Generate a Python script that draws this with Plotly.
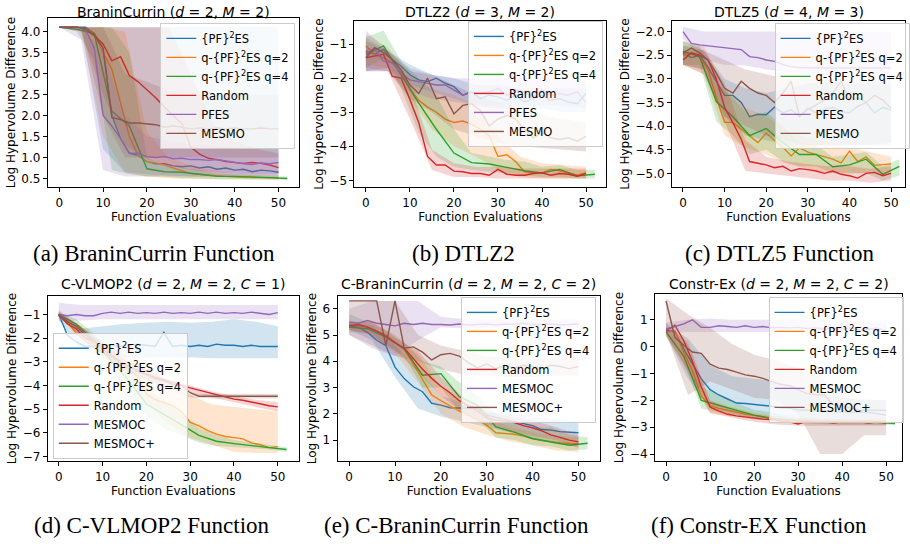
import plotly.graph_objects as go

W, H = 910, 546

X2 = list(range(0, 51, 2))
X4 = list(range(0, 53, 4))
BX = list(range(0, 51, 5))

TOP_NAMES = ["{PF}<sup>2</sup>ES", "q-{PF}<sup>2</sup>ES q=2", "q-{PF}<sup>2</sup>ES q=4", "Random", "PFES", "MESMO"]
BOT_NAMES = ["{PF}<sup>2</sup>ES", "q-{PF}<sup>2</sup>ES q=2", "q-{PF}<sup>2</sup>ES q=4", "Random", "MESMOC", "MESMOC+"]
COLORS = ["#1f77b4", "#ff7f0e", "#2ca02c", "#d62728", "#9467bd", "#8c564b"]
X_TICKS = [0, 10, 20, 30, 40, 50]

# ---------------- (a) BraninCurrin ----------------
A_PF = [4.1,4.1,4.1,4.1,3.95,3.6,2.0,1.45,1.1,1.05,0.9,0.85,0.85,0.8,0.78,0.8,0.75,0.78,0.72,0.75,0.7,0.72,0.66,0.7,0.68,0.65]
A_Q2 = [4.1,4.1,4.1,4.05,3.95,3.5,3.1,2.3,1.5,1.05,0.9,0.87,0.82,0.75,0.68,0.62,0.6,0.58,0.56,0.55,0.54,0.53,0.53,0.52,0.52,0.51]
A_Q4 = [4.1,4.05,3.95,2.1,1.75,0.73,0.66,0.65,0.6,0.55,0.55,0.54,0.52,0.5]
A_RND = [4.1,4.1,4.1,4.05,3.9,3.7,3.3,3.4,2.95,2.8,2.62,2.42,2.2,2.0,1.8,1.25,1.08,0.98,0.95,0.9,0.88,0.86,0.88,0.86,0.82,0.76]
A_PFES = [4.1,4.1,4.1,4.05,3.6,2.0,1.75,1.45,1.1,1.1,1.02,1.0,1.02,0.97,0.98,0.95,0.95,0.93,0.95,0.92,0.88,0.85,0.83,0.87,0.85,0.88]
A_MES = [4.1,4.1,4.1,4.05,3.9,3.6,1.95,1.9,1.82,1.82,1.8,1.78,1.72,1.75,1.72,1.68,1.7,1.68,1.7,1.68,1.7,1.68,1.68,1.7,1.68,1.68]
A_PF_LO = [4.1,4.1,1.2,0.65,0.6,0.58,0.55,0.55,0.52,0.5,0.5]
A_PF_HI = [4.1,4.1,4.1,4.1,4.1,4.1,4.1,4.1,4.1,4.1,4.1]
A_Q2_LO = [4.1,4.0,1.5,0.65,0.55,0.5,0.5,0.48,0.48,0.47,0.47]
A_Q2_HI = [4.1,4.1,4.1,4.0,1.6,1.0,0.8,0.7,0.62,0.6,0.58]
A_Q4_LO = [4.1,4.0,3.3,0.7,0.6,0.55,0.55,0.5,0.5,0.48,0.48,0.48,0.47,0.47]
A_Q4_HI = [4.1,4.1,4.1,4.1,3.5,1.0,0.8,0.75,0.7,0.62,0.6,0.58,0.56,0.54]
A_RND_LO = [4.1,4.0,2.5,1.3,0.95,0.8,0.7,0.65,0.62,0.6,0.6]
A_RND_HI = [4.1,4.1,4.1,4.1,4.1,4.1,3.0,1.8,1.4,1.2,1.1]
A_PFES_LO = [4.1,3.8,0.7,0.55,0.55,0.55,0.55,0.55,0.55,0.55,0.55]
A_PFES_HI = [4.1,4.1,3.5,2.0,1.5,1.4,1.3,1.3,1.2,1.2,1.2]
A_MES_LO = [4.1,4.1,2.0,1.0,1.0,1.0,1.0,1.0,1.0,1.0,1.0]
A_MES_HI = [4.1,4.1,4.1,3.0,2.8,2.6,2.5,2.5,2.5,2.5,2.5]

# ---------------- (b) DTLZ2 ----------------
B_PF = [-1.2,-1.3,-1.15,-1.45,-1.65,-1.9,-2.05,-2.1,-2.0,-2.15,-2.25,-2.5,-2.4,-2.6,-2.5,-2.55,-2.65,-2.5,-2.7,-2.6,-2.5,-2.65,-2.6,-2.7,-2.75,-2.45]
B_Q2 = [-1.05,-1.3,-1.4,-1.55,-1.8,-2.3,-2.65,-2.85,-3.0,-3.2,-3.3,-3.26,-3.35,-3.5,-3.7,-4.3,-4.25,-4.45,-4.75,-4.78,-4.78,-4.68,-4.72,-4.78,-4.85,-4.78]
B_Q4 = [-1.3,-1.05,-1.9,-2.73,-3.5,-4.2,-4.48,-4.52,-4.62,-4.72,-4.78,-4.68,-4.87,-4.82]
B_RND = [-1.4,-1.35,-1.3,-1.95,-2.0,-2.63,-3.3,-4.3,-4.55,-4.55,-4.73,-4.75,-4.8,-4.8,-4.85,-4.68,-4.82,-4.85,-4.85,-4.8,-4.78,-4.85,-4.8,-4.82,-4.88,-4.8]
B_PFES = [-1.25,-1.15,-1.5,-1.55,-1.85,-2.05,-2.1,-2.15,-2.2,-2.2,-2.35,-2.5,-2.4,-2.45,-2.4,-2.3,-2.5,-2.35,-2.4,-2.55,-2.35,-2.5,-2.45,-2.5,-2.4,-2.72]
B_MES = [-1.4,-1.1,-1.25,-1.45,-1.75,-2.2,-2.45,-2.0,-2.6,-2.55,-3.05,-2.8,-2.75,-2.95,-3.4,-3.2,-3.1,-3.2,-3.5,-3.75,-3.6,-3.75,-3.8,-3.75,-3.85,-3.7]
B_PF_LO = [-1.8,-1.7,-2.2,-2.4,-2.6,-2.8,-2.9,-2.9,-2.9,-3.0,-3.0]
B_PF_HI = [-0.8,-1.2,-1.6,-1.9,-2.0,-2.2,-2.2,-2.3,-2.3,-2.3,-2.3]
B_Q2_LO = [-1.6,-1.7,-2.6,-3.5,-4.0,-4.3,-4.7,-4.9,-4.95,-4.95,-4.95]
B_Q2_HI = [-0.7,-1.1,-1.9,-2.3,-2.5,-2.8,-3.7,-4.3,-4.5,-4.55,-4.6]
B_Q4_LO = [-1.7,-1.4,-2.3,-3.6,-4.3,-4.6,-4.7,-4.75,-4.8,-4.85,-4.9,-4.9,-4.95,-4.95]
B_Q4_HI = [-0.8,-0.6,-1.5,-2.0,-2.5,-3.5,-4.2,-4.3,-4.4,-4.45,-4.6,-4.55,-4.7,-4.7]
B_RND_LO = [-1.7,-1.8,-3.2,-4.7,-4.9,-4.9,-4.95,-4.95,-4.95,-4.95,-4.95]
B_RND_HI = [-1.1,-1.2,-2.2,-4.1,-4.5,-4.6,-4.6,-4.65,-4.65,-4.65,-4.65]
B_PFES_LO = [-1.8,-1.8,-2.4,-2.6,-2.7,-2.8,-2.8,-2.8,-2.8,-2.8,-2.9]
B_PFES_HI = [-0.6,-1.2,-1.7,-1.9,-2.0,-2.0,-2.0,-2.0,-2.0,-2.0,-2.1]
B_MES_LO = [-1.8,-1.8,-2.6,-3.0,-3.5,-3.7,-3.9,-4.0,-4.05,-4.1,-4.15]
B_MES_HI = [-0.9,-1.2,-1.8,-1.9,-2.2,-2.5,-2.7,-2.9,-3.1,-3.2,-3.3]

# ---------------- (c) DTLZ5 ----------------
C_PF = [-2.45,-2.55,-2.5,-2.75,-3.05,-3.35,-3.35,-3.5,-3.8,-3.75,-3.76,-3.6,-3.72,-3.65,-3.8,-3.62,-3.72,-3.65,-3.6,-3.7,-3.72,-3.58,-3.5,-3.72,-3.6,-3.66]
C_Q2 = [-2.5,-2.45,-2.55,-2.8,-3.4,-3.92,-3.92,-4.07,-4.2,-4.35,-4.15,-4.3,-4.45,-4.63,-4.46,-4.55,-4.6,-4.65,-4.7,-4.78,-4.53,-4.75,-4.65,-4.83,-4.82,-4.8]
C_Q4 = [-2.42,-2.53,-3.48,-3.8,-4.2,-4.05,-4.35,-4.6,-4.6,-4.86,-4.82,-4.7,-5.02,-4.85]
C_RND = [-2.6,-2.45,-2.5,-2.6,-3.0,-3.6,-3.93,-4.28,-4.75,-4.78,-4.82,-4.88,-4.85,-4.95,-4.9,-4.92,-4.95,-5.0,-4.95,-5.02,-5.05,-5.1,-5.0,-4.98,-5.05,-5.0]
C_PFES = [-2.0,-2.25,-2.28,-2.3,-2.32,-2.33,-2.35,-2.38,-2.53,-2.55,-2.6,-2.63,-2.7,-2.74,-2.76,-2.77,-2.77,-2.77,-2.77,-2.77,-2.77,-2.77,-2.77,-2.77,-2.77,-2.77]
C_MES = [-2.45,-2.35,-2.45,-2.6,-2.88,-3.2,-3.3,-3.05,-3.2,-3.3,-3.35,-3.5,-3.3,-3.05,-3.8,-3.65,-3.55,-3.45,-3.3,-3.05,-3.45,-3.4,-3.5,-3.35,-3.45,-3.62]
C_PF_LO = [-2.7,-2.8,-3.8,-4.2,-4.3,-4.4,-4.4,-4.4,-4.4,-4.4,-4.4]
C_PF_HI = [-2.3,-2.4,-3.0,-3.2,-3.3,-3.2,-3.1,-3.1,-3.1,-3.1,-3.1]
C_Q2_LO = [-2.7,-2.9,-4.2,-4.45,-4.6,-4.8,-4.9,-5.0,-5.0,-5.0,-5.0]
C_Q2_HI = [-2.3,-2.3,-3.2,-3.6,-3.8,-4.1,-4.25,-4.35,-4.45,-4.55,-4.65]
C_Q4_LO = [-2.7,-2.7,-3.9,-4.2,-4.6,-4.5,-4.75,-4.85,-4.85,-5.0,-5.0,-5.0,-5.15,-5.05]
C_Q4_HI = [-2.2,-2.3,-3.1,-3.4,-3.8,-3.7,-4.0,-4.35,-4.4,-4.65,-4.6,-4.55,-4.85,-4.7]
C_RND_LO = [-2.7,-2.8,-3.9,-4.95,-5.0,-5.05,-5.1,-5.15,-5.15,-5.2,-5.15]
C_RND_HI = [-2.4,-2.4,-3.1,-4.3,-4.65,-4.75,-4.8,-4.85,-4.85,-4.9,-4.85]
C_PFES_LO = [-2.15,-2.6,-2.7,-2.72,-2.8,-2.85,-2.88,-2.88,-2.88,-2.88,-2.88]
C_PFES_HI = [-1.9,-2.0,-2.0,-2.0,-2.0,-2.0,-2.0,-2.0,-2.0,-2.0,-2.0]
C_MES_LO = [-2.7,-2.9,-3.8,-4.0,-4.2,-4.3,-4.4,-4.4,-4.4,-4.4,-4.35]
C_MES_HI = [-2.2,-2.4,-2.6,-2.8,-2.9,-3.0,-3.0,-3.0,-3.0,-3.0,-3.0]

# ---------------- (d) C-VLMOP2 ----------------
D_PF = [-1.0,-1.88,-2.16,-2.35,-2.35,-2.3,-2.3,-2.35,-2.3,-2.25,-2.3,-2.35,-1.75,-2.35,-2.3,-2.35,-2.3,-2.35,-2.25,-2.3,-2.3,-2.35,-2.3,-2.35,-2.35,-2.35]
D_Q2 = [-1.0,-1.32,-1.8,-2.1,-2.4,-2.6,-2.8,-3.0,-3.3,-3.6,-4.35,-4.6,-4.72,-4.85,-5.1,-5.55,-5.7,-5.9,-6.05,-6.15,-6.2,-6.25,-6.42,-6.5,-6.62,-6.58]
D_Q4 = [-1.0,-1.4,-2.1,-2.95,-3.8,-4.78,-5.2,-5.65,-6.1,-6.35,-6.45,-6.55,-6.62,-6.7]
D_RND = [-1.0,-1.4,-1.6,-2.0,-2.1,-2.4,-2.7,-3.0,-3.2,-3.35,-3.5,-3.65,-3.75,-3.85,-3.98,-4.1,-4.2,-4.3,-4.4,-4.5,-4.57,-4.62,-4.7,-4.78,-4.85,-4.9]
D_MOC = [-1.0,-1.05,-1.0,-1.05,-1.05,-0.95,-0.9,-0.95,-0.9,-0.95,-0.92,-0.95,-0.9,-0.95,-0.92,-0.95,-0.9,-0.95,-0.9,-0.95,-0.92,-0.95,-0.9,-0.95,-1.0,-0.92]
D_MOCP = [-1.0,-1.3,-1.5,-1.85,-2.1,-2.45,-2.75,-3.0,-3.2,-3.4,-3.55,-3.7,-3.8,-3.95,-4.0,-4.3,-4.45,-4.45,-4.45,-4.45,-4.45,-4.45,-4.45,-4.45,-4.45,-4.45]
D_PF_LO = [-1.2,-2.5,-2.75,-2.8,-2.85,-2.85,-2.8,-2.85,-2.85,-2.85,-2.85]
D_PF_HI = [-0.8,-1.6,-1.5,-1.4,-1.35,-1.3,-1.35,-1.3,-1.2,-1.3,-1.5]
D_Q2_LO = [-1.1,-2.0,-2.7,-3.6,-4.8,-5.6,-6.2,-6.5,-6.8,-6.85,-6.85]
D_Q2_HI = [-0.9,-1.5,-2.2,-2.7,-3.2,-4.2,-4.4,-4.8,-4.9,-5.0,-5.1]
D_Q4_LO = [-1.1,-1.6,-2.4,-3.3,-4.3,-5.3,-5.8,-6.1,-6.4,-6.55,-6.6,-6.65,-6.7,-6.8]
D_Q4_HI = [-0.9,-1.2,-1.8,-2.6,-3.3,-4.2,-4.6,-5.2,-5.8,-6.1,-6.3,-6.4,-6.5,-6.6]
D_RND_LO = [-1.1,-1.9,-2.6,-3.4,-3.8,-4.1,-4.3,-4.5,-4.7,-4.9,-5.1]
D_RND_HI = [-0.9,-1.5,-2.2,-2.9,-3.3,-3.75,-4.0,-4.25,-4.45,-4.6,-4.7]
D_MOC_LO = [-1.3,-1.25,-1.2,-1.2,-1.2,-1.2,-1.2,-1.2,-1.2,-1.2,-1.2]
D_MOC_HI = [-0.5,-0.6,-0.6,-0.6,-0.6,-0.6,-0.6,-0.6,-0.6,-0.6,-0.6]
D_MOCP_LO = [-1.1,-1.9,-2.6,-3.4,-3.75,-4.1,-4.5,-4.55,-4.55,-4.55,-4.55]
D_MOCP_HI = [-0.9,-1.5,-2.2,-2.9,-3.3,-3.8,-4.35,-4.35,-4.35,-4.35,-4.35]

# ---------------- (e) C-BraninCurrin ----------------
E_PF = [5.35,5.3,5.1,4.8,4.6,3.78,3.34,3.03,2.84,2.4,2.33,2.23,2.22,2.2,2.2,1.95,1.85,1.78,1.7,1.63,1.55,1.4,1.38,1.32,1.3,1.28]
E_Q2 = [5.4,5.35,5.3,5.15,5.0,4.73,4.45,3.9,3.3,2.72,2.5,2.3,2.1,1.95,1.76,1.57,1.28,1.26,1.22,1.15,1.05,0.98,0.93,0.9,0.87,0.86]
E_Q4 = [5.3,5.24,4.92,4.48,3.47,3.53,2.65,2.33,1.5,1.3,1.06,0.94,0.8,0.88]
E_RND = [5.35,5.4,5.3,5.15,4.95,4.7,4.5,4.1,3.7,3.35,3.05,2.8,2.5,2.3,2.1,1.85,1.76,1.72,1.67,1.55,1.47,1.35,1.2,1.1,1.0,0.93]
E_MOC = [5.5,5.45,5.55,5.45,5.4,5.35,5.45,5.4,5.45,5.4,5.4,5.38,5.42,5.38,5.4,5.42,5.38,5.42,5.4,5.45,5.38,5.4,5.42,5.38,5.4,5.42]
E_MOCP = [6.3,6.3,6.3,6.3,4.6,6.3,4.5,4.55,4.35,4.05,4.25,4.3,4.2,3.95,3.75,3.9,3.72,3.85,3.75,3.85,3.8,3.72,3.85,3.8,3.72,3.8]
E_PF_LO = [5.2,4.8,3.4,2.2,1.9,1.7,1.5,1.3,1.05,0.85,0.75]
E_PF_HI = [5.5,5.35,4.6,3.7,2.7,2.4,2.1,2.0,1.9,1.8,1.7]
E_Q2_LO = [5.2,5.0,4.3,3.2,2.0,1.5,1.2,0.95,0.8,0.6,0.55]
E_Q2_HI = [5.5,5.5,5.0,4.3,3.0,2.5,1.9,1.5,1.3,1.15,1.1]
E_Q4_LO = [5.1,5.1,4.6,4.2,3.0,3.0,2.1,1.8,1.1,1.0,0.8,0.75,0.6,0.65]
E_Q4_HI = [5.8,5.5,5.2,4.7,4.0,3.8,3.2,2.7,2.0,1.7,1.45,1.5,1.2,1.1]
E_RND_LO = [5.2,5.0,4.4,3.6,2.7,2.0,1.6,1.35,1.15,1.0,0.7]
E_RND_HI = [5.5,5.5,4.9,4.4,3.4,2.6,2.1,1.9,1.75,1.5,1.2]
E_MOC_LO = [5.0,4.5,4.2,4.8,5.3,5.25,5.25,5.25,5.25,5.25,5.25]
E_MOC_HI = [6.0,6.3,6.3,6.3,5.7,5.6,5.6,5.6,5.6,5.6,5.6]
E_MOCP_LO = [5.0,4.6,4.2,4.0,3.7,3.5,3.45,3.4,3.4,3.45,3.45]
E_MOCP_HI = [6.3,6.3,6.3,5.0,4.6,4.4,4.2,4.1,4.1,4.1,4.1]

# ---------------- (f) Constr-Ex ----------------
F_PF = [0.6,0.55,-0.08,-0.65,-1.2,-1.6,-1.8,-1.95,-2.1,-2.12,-2.15,-2.18,-2.22,-2.28,-2.3,-2.35,-2.37,-2.38,-2.38,-2.42,-2.43,-2.43,-2.44,-2.45,-2.5,-2.55]
F_Q2 = [0.55,0.6,-0.2,-0.9,-1.85,-2.2,-2.3,-2.37,-2.45,-2.51,-2.56,-2.61,-2.66,-2.72,-2.74,-2.76,-2.78,-2.78,-2.79,-2.8,-2.8,-2.8,-2.8,-2.78,-2.8,-2.8]
F_Q4 = [0.55,-0.35,-2.0,-2.18,-2.37,-2.55,-2.68,-2.75,-2.8,-2.8,-2.8,-2.82,-2.82,-2.86]
F_RND = [0.6,0.8,0.23,-0.55,-1.5,-2.25,-2.4,-2.52,-2.58,-2.62,-2.68,-2.7,-2.72,-2.78,-2.8,-2.88,-2.78,-2.82,-2.8,-2.85,-2.8,-2.82,-2.8,-2.85,-2.8,-2.85]
F_MOC = [0.65,0.75,0.85,1.0,0.72,0.72,0.78,0.75,0.72,0.78,0.72,0.75,0.7,0.72,0.7,0.72,0.68,0.7,0.65,0.7,0.65,0.7,0.62,0.65,0.7,0.58]
F_MOCP = [1.7,0.35,0.05,-0.2,-0.25,-0.65,-0.8,-0.85,-0.95,-1.05,-1.1,-1.18,-1.3,-1.4,-1.45,-1.6,-1.75,-1.78,-1.8,-2.18,-2.18,-2.3,-2.37,-2.37,-2.37,-2.37]
F_PF_LO = [0.4,-1.2,-2.3,-2.5,-2.65,-2.7,-2.75,-2.75,-2.8,-2.8,-2.8]
F_PF_HI = [0.8,0.3,-0.7,-1.1,-1.2,-1.3,-1.5,-1.8,-1.9,-1.95,-2.0]
F_Q2_LO = [0.4,-1.0,-2.5,-2.6,-2.7,-2.8,-2.85,-2.9,-2.9,-2.9,-2.9]
F_Q2_HI = [0.7,0.2,-2.0,-2.25,-2.45,-2.6,-2.65,-2.7,-2.7,-2.72,-2.72]
F_Q4_LO = [0.45,-0.6,-2.3,-2.45,-2.55,-2.7,-2.75,-2.82,-2.85,-2.88,-2.9,-2.9,-2.9,-2.92]
F_Q4_HI = [0.65,0.1,-1.5,-1.8,-2.1,-2.35,-2.45,-2.6,-2.65,-2.7,-2.7,-2.72,-2.75,-2.78]
F_RND_LO = [0.4,-0.9,-2.45,-2.65,-2.8,-2.9,-2.95,-2.95,-2.95,-2.95,-2.95]
F_RND_HI = [0.9,0.1,-2.0,-2.35,-2.55,-2.6,-2.7,-2.7,-2.7,-2.7,-2.7]
F_MOC_LO = [0.5,0.55,0.55,0.55,0.55,0.55,0.55,0.5,0.5,0.45,0.45]
F_MOC_HI = [0.9,1.0,1.05,1.0,1.0,1.0,1.0,1.0,0.95,0.95,0.95]
F_MOCP_LO = [0.5,-1.8,-1.3,-1.6,-1.9,-2.0,-2.5,-4.0,-4.0,-3.3,-3.3]
F_MOCP_HI = [1.8,1.2,0.7,0.1,-0.3,-0.5,-0.8,-1.1,-1.9,-2.0,-2.0]

TITLES = [
    "BraninCurrin (<i>d</i> = 2, <i>M</i> = 2)",
    "DTLZ2 (<i>d</i> = 3, <i>M</i> = 2)",
    "DTLZ5 (<i>d</i> = 4, <i>M</i> = 3)",
    "C-VLMOP2 (<i>d</i> = 2, <i>M</i> = 2, <i>C</i> = 1)",
    "C-BraninCurrin (<i>d</i> = 2, <i>M</i> = 2, <i>C</i> = 2)",
    "Constr-Ex (<i>d</i> = 2, <i>M</i> = 2, <i>C</i> = 2)",
]
CAPTIONS = ["(a) BraninCurrin Function", "(b) DTLZ2", "(c) DTLZ5 Function",
            "(d) C-VLMOP2 Function", "(e) C-BraninCurrin Function", "(f) Constr-EX Function"]
Y_TICKS = [
    [0.5, 1.0, 1.5, 2.0, 2.5, 3.0, 3.5, 4.0],
    [-5, -4, -3, -2, -1],
    [-5.0, -4.5, -4.0, -3.5, -3.0, -2.5, -2.0],
    [-7, -6, -5, -4, -3, -2, -1],
    [1, 2, 3, 4, 5, 6],
    [-4, -3, -2, -1, 0, 1],
]
Y_FMT = [".1f", "d", ".1f", "d", "d", "d"]

# layout geometry in pixels (left, right, top, bottom) and axis ranges
BOXES = [(48, 300, 18, 188), (356, 609, 21, 188), (675, 909, 21, 188),
         (48, 300, 297, 463), (339, 603, 297, 463), (658, 906, 295, 463)]
XR = [(-2.6, 54.6), (-2.6, 54.6), (-2.63, 53.35), (-2.5, 54.77), (-2.54, 54.78), (-2.49, 53.6)]
YR = [(0.29, 4.32), (-5.205, -0.319), (-5.295, -1.774), (-7.198, -0.214), (0.191, 6.49), (-4.271, 1.965)]
LEG_POS = [(161, 23), (470, 21), (778, 23), (53, 334), (463, 298), (772, 298)]
CAP_POS = [(155, 254), (466, 254), (783, 254), (153, 527), (459, 527), (762, 527)]
TITLE_Y = [12, 12, 12, 285, 285, 285]

PANELS = [
    [(A_PF, A_PF_LO, A_PF_HI), (A_Q2, A_Q2_LO, A_Q2_HI), (A_Q4, A_Q4_LO, A_Q4_HI),
     (A_RND, A_RND_LO, A_RND_HI), (A_PFES, A_PFES_LO, A_PFES_HI), (A_MES, A_MES_LO, A_MES_HI)],
    [(B_PF, B_PF_LO, B_PF_HI), (B_Q2, B_Q2_LO, B_Q2_HI), (B_Q4, B_Q4_LO, B_Q4_HI),
     (B_RND, B_RND_LO, B_RND_HI), (B_PFES, B_PFES_LO, B_PFES_HI), (B_MES, B_MES_LO, B_MES_HI)],
    [(C_PF, C_PF_LO, C_PF_HI), (C_Q2, C_Q2_LO, C_Q2_HI), (C_Q4, C_Q4_LO, C_Q4_HI),
     (C_RND, C_RND_LO, C_RND_HI), (C_PFES, C_PFES_LO, C_PFES_HI), (C_MES, C_MES_LO, C_MES_HI)],
    [(D_PF, D_PF_LO, D_PF_HI), (D_Q2, D_Q2_LO, D_Q2_HI), (D_Q4, D_Q4_LO, D_Q4_HI),
     (D_RND, D_RND_LO, D_RND_HI), (D_MOC, D_MOC_LO, D_MOC_HI), (D_MOCP, D_MOCP_LO, D_MOCP_HI)],
    [(E_PF, E_PF_LO, E_PF_HI), (E_Q2, E_Q2_LO, E_Q2_HI), (E_Q4, E_Q4_LO, E_Q4_HI),
     (E_RND, E_RND_LO, E_RND_HI), (E_MOC, E_MOC_LO, E_MOC_HI), (E_MOCP, E_MOCP_LO, E_MOCP_HI)],
    [(F_PF, F_PF_LO, F_PF_HI), (F_Q2, F_Q2_LO, F_Q2_HI), (F_Q4, F_Q4_LO, F_Q4_HI),
     (F_RND, F_RND_LO, F_RND_HI), (F_MOC, F_MOC_LO, F_MOC_HI), (F_MOCP, F_MOCP_LO, F_MOCP_HI)],
]


def rgba(hex_color, a):
    h = hex_color.lstrip("#")
    return "rgba(%d,%d,%d,%s)" % (int(h[0:2], 16), int(h[2:4], 16), int(h[4:6], 16), a)


FONT = "DejaVu Sans"
fig = go.Figure()
layout = dict(width=W, height=H, margin=dict(l=0, r=0, t=0, b=0),
              paper_bgcolor="white", plot_bgcolor="white", showlegend=True,
              hovermode=False, font=dict(family=FONT, size=12, color="black"))
annotations = []

for p, series in enumerate(PANELS):
    k = "" if p == 0 else str(p + 1)
    xa, ya = "x" + k, "y" + k
    leg = "legend" + k
    names = TOP_NAMES if p < 3 else BOT_NAMES
    for s, (line, lo, hi) in enumerate(series):
        lx = X4 if s == 2 else X2
        bx = X4 if s == 2 else BX
        fig.add_trace(go.Scatter(
            x=bx + bx[::-1], y=hi + lo[::-1], fill="toself",
            fillcolor=rgba(COLORS[s], 0.2), line=dict(width=0),
            mode="lines", showlegend=False, hoverinfo="skip", xaxis=xa, yaxis=ya))
        fig.add_trace(go.Scatter(
            x=lx, y=line, mode="lines", name=names[s],
            line=dict(color=COLORS[s], width=1.4), xaxis=xa, yaxis=ya, legend=leg))

    l, r, t, b = BOXES[p]
    common = dict(showline=True, mirror=True, linecolor="black", linewidth=1,
                  ticks="outside", ticklen=4, tickcolor="black", showgrid=False,
                  zeroline=False, tickfont=dict(family=FONT, size=12, color="black"))
    layout["xaxis" + k] = dict(domain=[l / W, r / W], anchor=ya, range=list(XR[p]),
                               tickvals=X_TICKS,
                               title=dict(text="Function Evaluations", font=dict(size=12), standoff=0),
                               **common)
    layout["yaxis" + k] = dict(domain=[1 - b / H, 1 - t / H], anchor=xa, range=list(YR[p]),
                               tickvals=Y_TICKS[p], tickformat=Y_FMT[p],
                               title=dict(text="Log Hypervolume Difference", font=dict(size=12), standoff=3),
                               **common)
    lx_, ly_ = LEG_POS[p]
    layout[leg] = dict(x=lx_ / W, y=1 - ly_ / H, xanchor="left", yanchor="top",
                       bgcolor="rgba(255,255,255,0.8)", bordercolor="#cccccc", borderwidth=1,
                       font=dict(family=FONT, size=11.5, color="black"),
                       itemwidth=30, tracegroupgap=0)
    annotations.append(dict(text=TITLES[p], x=(l + r) / 2 / W, y=1 - TITLE_Y[p] / H,
                            xref="paper", yref="paper", xanchor="center", yanchor="middle",
                            showarrow=False, font=dict(family=FONT, size=14, color="black")))
    cx, cy = CAP_POS[p]
    annotations.append(dict(text=CAPTIONS[p], x=cx / W, y=1 - cy / H, xref="paper", yref="paper",
                            xanchor="center", yanchor="middle", showarrow=False,
                            font=dict(family="Liberation Serif", size=23, color="black")))

layout["annotations"] = annotations
fig.update_layout(**layout)
fig.write_html("out.html", config={"displayModeBar": False},
               post_script="document.body.style.margin='0';")
